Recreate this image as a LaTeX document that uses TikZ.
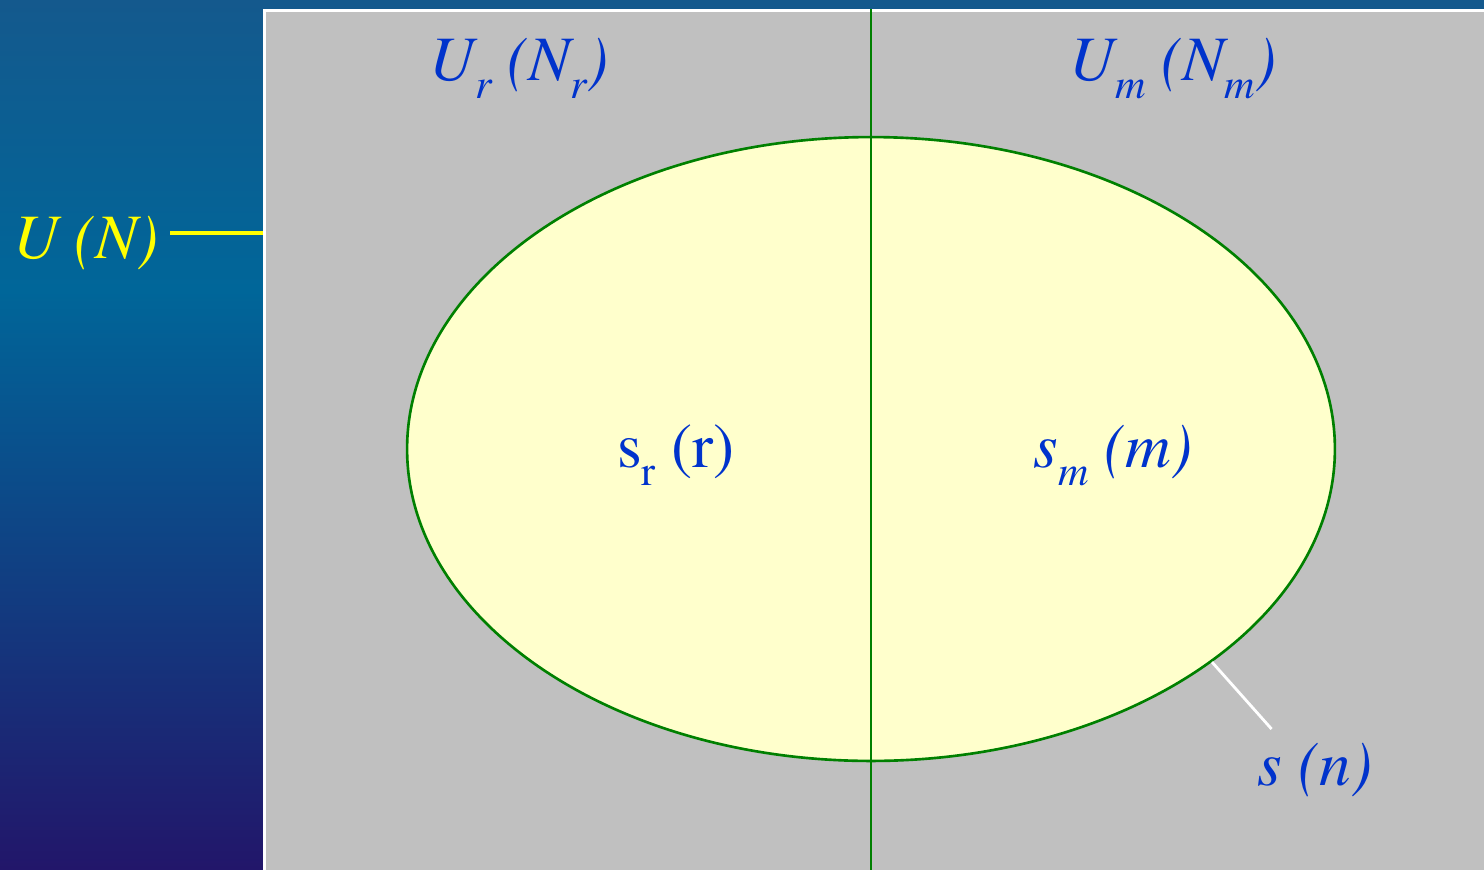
\documentclass[tikz,border=0pt]{standalone}
\usepackage[T1]{fontenc}
\usepackage{mathptmx}
\usetikzlibrary{shapes.geometric, calc}
\definecolor{bgTop}{HTML}{14598D}
\definecolor{bgMid}{HTML}{006699}
\definecolor{bgBot}{HTML}{22166A}
\definecolor{popGray}{HTML}{C0C0C0}
\definecolor{sampleYellow}{HTML}{FFFFCC}
\definecolor{lineGreen}{HTML}{008000}
\definecolor{labelBlue}{HTML}{0033CC}
\definecolor{unYellow}{HTML}{FFFF00}

\newcommand{\lowsub}[1]{\raisebox{-0.3em}{\fontsize{24}{24}\selectfont #1}}

\begin{document}
\begin{tikzpicture}[x=0.02cm, y=-0.02cm,
    lbl/.style={anchor=base, inner sep=0pt, text=labelBlue,
                font=\fontsize{36}{40}\selectfont},
    itlbl/.style={lbl, font=\fontsize{36}{40}\selectfont\itshape},
    frame/.style={rectangle, fill=popGray, draw=white, line width=1.8pt,
                  anchor=north west, inner sep=0pt},
    sample/.style={ellipse, draw=lineGreen, fill=sampleYellow, line width=1.5pt,
                   inner sep=0pt, minimum width=18.56cm, minimum height=12.48cm},
  ]
    \useasboundingbox (0,0) rectangle (1484,869);
    \clip (0,0) rectangle (1484,869);
    % background
    \shade[top color=bgTop, bottom color=bgMid] (0,0) rectangle (1484,291);
    \shade[top color=bgMid, bottom color=bgBot] (0,290) rectangle (1484,869);

    % population and sample
    \node[frame, minimum width=25cm, minimum height=18cm] (pop) at (263,9) {};
    \node[sample] (smp) at (871,449) {};
    \draw[lineGreen, line width=1.5pt] (pop.north -| smp.north) -- (pop.south -| smp.south);

    % labels
    \node[itlbl] (ur) at (519,80) {U\lowsub{r} (N\lowsub{r})};
    \node[itlbl] (um) at (1173,80) {U\lowsub{m} (N\lowsub{m})};
    \node[lbl] (sr) at (676,467) {s\lowsub{r} (r)};
    \node[itlbl] (sm) at (1113,467) {s\lowsub{m} (m)};
    \node[itlbl] (sn) at (1315,785) {s (n)};
    \node[itlbl, text=unYellow] (un) at (86,258) {U (N)};

    % leaders
    \coordinate (unend) at ($(un.base east)+(11,-25)$);
    \draw[unYellow, line width=1.8pt] (unend) -- (unend -| pop.west);
    \coordinate (sntip) at ($(sn.base west)+(14,-56)$);
    \draw[white, line width=1.6pt] (smp.-32.6) -- (sntip);
\end{tikzpicture}
\end{document}
